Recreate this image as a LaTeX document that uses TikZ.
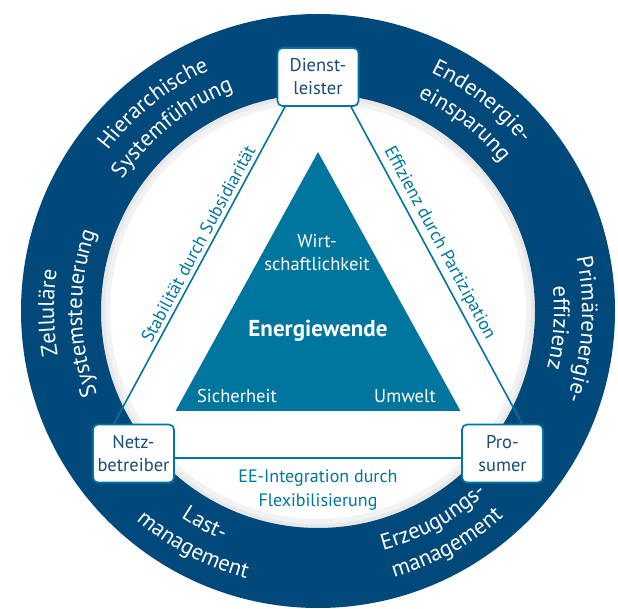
\documentclass[tikz,border=0pt]{standalone}
\usepackage{fontspec}
\setmainfont{PT Sans}
\usetikzlibrary{decorations.text,shadows}

\definecolor{ringblue}{RGB}{0,73,122}
\definecolor{petrol}{RGB}{0,118,158}
\definecolor{boxtext}{RGB}{28,76,120}

\newcommand{\ringfont}{\fontsize{22.5}{26}\selectfont}
\newcommand{\boxfont}{\fontsize{18.5}{23}\selectfont}

\begin{document}
\begin{tikzpicture}[
x=1pt,
y=1pt
]

\tikzstyle{akteur} = [draw=petrol, line width=1.6pt, fill=white, rounded corners=5pt, minimum width=81pt, minimum height=58pt, inner sep=2pt, align=center, text=boxtext, font=\boxfont, drop shadow={opacity=0.15, shadow xshift=0.8pt, shadow yshift=-1pt}]
\tikzstyle{kante} = [draw=petrol, line width=1.6pt]
\tikzstyle{kantentext} = [text=petrol, font=\fontsize{18}{24}\selectfont, inner sep=3pt]
\tikzstyle{zieltext} = [text=white, font=\fontsize{18.5}{23}\selectfont]
\tikzstyle{ringtext} = [decorate, decoration={text along path, text align=center, text color=white, text={|\ringfont|#1}}]

\useasboundingbox (0,0) rectangle (618,608);
\coordinate (O) at (318,297);

% ring with soft inner shadow
\draw[black!5, line width=18pt] (O) circle[radius=217pt];
\draw[black!9, line width=8pt] (O) circle[radius=217pt];
\fill[ringblue, even odd rule] (O) circle[radius=297pt] (O) circle[radius=217pt];

% ring labels, clockwise
\path[ringtext=Hierarchische] (O) ++(188.5:264pt) arc[start angle=188.5, end angle=68.5, radius=264pt];
\path[ringtext=Systemführung] (O) ++(188.5:236pt) arc[start angle=188.5, end angle=68.5, radius=236pt];
\path[ringtext=Endenergie-] (O) ++(112:264pt) arc[start angle=112, end angle=-8, radius=264pt];
\path[ringtext=einsparung] (O) ++(112:236pt) arc[start angle=112, end angle=-8, radius=236pt];
\path[ringtext=Primärenergie-] (O) ++(56:264pt) arc[start angle=56, end angle=-64, radius=264pt];
\path[ringtext=effizienz] (O) ++(56:236pt) arc[start angle=56, end angle=-64, radius=236pt];
\path[ringtext=Zelluläre] (O) ++(240.5:264pt) arc[start angle=240.5, end angle=120.5, radius=264pt];
\path[ringtext=Systemsteuerung] (O) ++(240.5:236pt) arc[start angle=240.5, end angle=120.5, radius=236pt];
% ring labels, counterclockwise
\path[ringtext=Last-] (O) ++(182:248pt) arc[start angle=182, end angle=302, radius=248pt];
\path[ringtext=management] (O) ++(182:277pt) arc[start angle=182, end angle=302, radius=277pt];
\path[ringtext=Erzeugungs-] (O) ++(239:248pt) arc[start angle=239, end angle=359, radius=248pt];
\path[ringtext=management] (O) ++(239:277pt) arc[start angle=239, end angle=359, radius=277pt];

% inner triangle
\fill[petrol] (318,456) -- (175.5,197) -- (460.5,197) -- cycle;
\node[zieltext, align=center] (wirtschaft) at (317,355) {Wirt-\\schaftlichkeit};
\node[zieltext, font=\fontsize{23}{26}\selectfont\bfseries, anchor=base] (wende) at (318,271) {Energiewende};
\node[zieltext, anchor=base] (sicher) at (237,205) {Sicherheit};
\node[zieltext, anchor=base] (umwelt) at (405,205) {Umwelt};

% actors
\node[akteur] (dienst) at (318,531) {Dienst-\\leister};
\node[akteur] (netz) at (133.5,154.5) {Netz-\\betreiber};
\node[akteur] (prosumer) at (502.5,154.5) {Pro-\\sumer};

\draw[kante] ([xshift=-19.5pt]netz.north) -- ([xshift=-33pt]dienst.south)
	node[kantentext, pos=0.55, sloped, above=1pt] (stabil) {Stabilität durch Subsidiarität};
\draw[kante] ([xshift=33pt]dienst.south) -- ([xshift=19.5pt]prosumer.north)
	node[kantentext, pos=0.45, sloped, above=1pt] (effizienz) {Effizienz durch Partizipation};
\draw[kante] ([yshift=-4.5pt]netz.east) -- ([yshift=-4.5pt]prosumer.west)
	node[kantentext, midway, below=8pt, align=center] (flex) {EE-Integration durch\\Flexibilisierung};

\end{tikzpicture}
\end{document}
